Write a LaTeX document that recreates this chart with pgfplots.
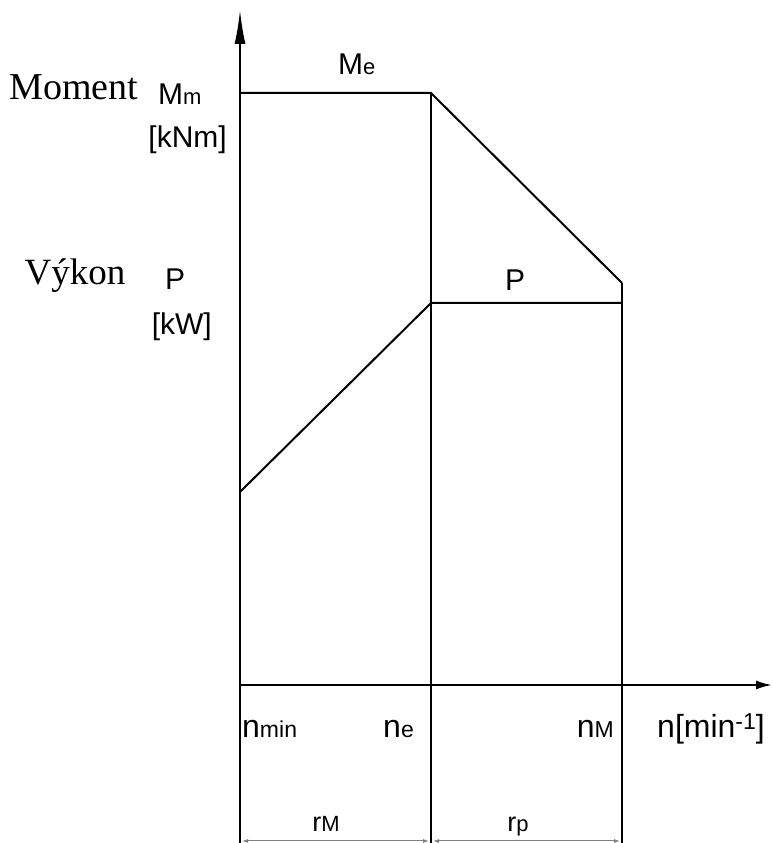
\documentclass[border=0pt]{standalone}
\usepackage{pgfplots}
\pgfplotsset{compat=1.18}
\usetikzlibrary{arrows.meta}
\usepackage{fontspec}
\setmainfont{Liberation Serif}
\newfontfamily\iso{Liberation Sans}
\newcommand\LL{\iso\fontsize{30}{32}\selectfont}
\newcommand\SM{\iso\fontsize{22}{24}\selectfont}
\newcommand\NL{\iso\fontsize{32}{34}\selectfont}
\newcommand\NS{\iso\fontsize{23}{25}\selectfont}
\newcommand\RL{\iso\fontsize{27}{29}\selectfont}
\newcommand\RS{\iso\fontsize{22}{24}\selectfont}
\begin{document}
\begin{tikzpicture}
\begin{axis}[x=1pt,y=1pt,xmin=-240,xmax=532,ymin=-158,ymax=685,
  hide axis,clip=false]
% axes
\addplot[black,line width=2pt,-{Latex[length=34pt,width=11pt]}] coordinates {(0,-160) (0,675)};
\addplot[black,line width=2pt,-{Latex[length=16pt,width=9pt]}] coordinates {(0,0) (532,0)};
% vertical guide lines
\addplot[black,line width=2pt] coordinates {(191,592) (191,-160)};
\addplot[black,line width=2pt] coordinates {(382,402) (382,-160)};
% moment curve
\addplot[black,line width=2pt] coordinates {(0,592) (191,592) (382,402)};
% power curve
\addplot[black,line width=2pt] coordinates {(0,193) (191,382) (382,382)};
% dimension lines
\addplot[gray,line width=1pt,{Latex[length=6pt,width=4pt]}-{Latex[length=6pt,width=4pt]}] coordinates {(2,-156) (189,-156)};
\addplot[gray,line width=1pt,{Latex[length=6pt,width=4pt]}-{Latex[length=6pt,width=4pt]}] coordinates {(193,-156) (380,-156)};
% labels
\node[anchor=base,inner sep=0] at (axis cs:-166,585) {\fontsize{38}{40}\selectfont Moment};
\node[anchor=base west,inner sep=0] at (axis cs:-82,580) {\LL M\SM m};
\node[anchor=base east,inner sep=0] at (axis cs:-13,537) {\LL [kNm]};
\node[anchor=base west,inner sep=0] at (axis cs:98,610) {\LL M\SM e};
\node[anchor=base,inner sep=0] at (axis cs:-165,400) {\fontsize{37}{39}\selectfont Výkon};
\node[anchor=base west,inner sep=0] at (axis cs:-75,395) {\LL P};
\node[anchor=base east,inner sep=0] at (axis cs:-28,350) {\LL [kW]};
\node[anchor=base west,inner sep=0] at (axis cs:265,394) {\LL P};
\node[anchor=base west,inner sep=0] at (axis cs:2,-53) {\NL n\NS min};
\node[anchor=base east,inner sep=0] at (axis cs:174,-53) {\NL n\NS e};
\node[anchor=base east,inner sep=0] at (axis cs:374,-53) {\NL n\NS M};
\node[anchor=base west,inner sep=0] at (axis cs:417,-53) {\NL n[min\raisebox{8pt}{\NS -1}]};
\node[anchor=base,inner sep=0] at (axis cs:86,-147) {\RL r\RS M};
\node[anchor=base,inner sep=0] at (axis cs:278,-147) {\RL r\RS p};
\end{axis}
\pgfresetboundingbox
\path (current axis.south west) rectangle (current axis.north east);
\end{tikzpicture}
\end{document}
